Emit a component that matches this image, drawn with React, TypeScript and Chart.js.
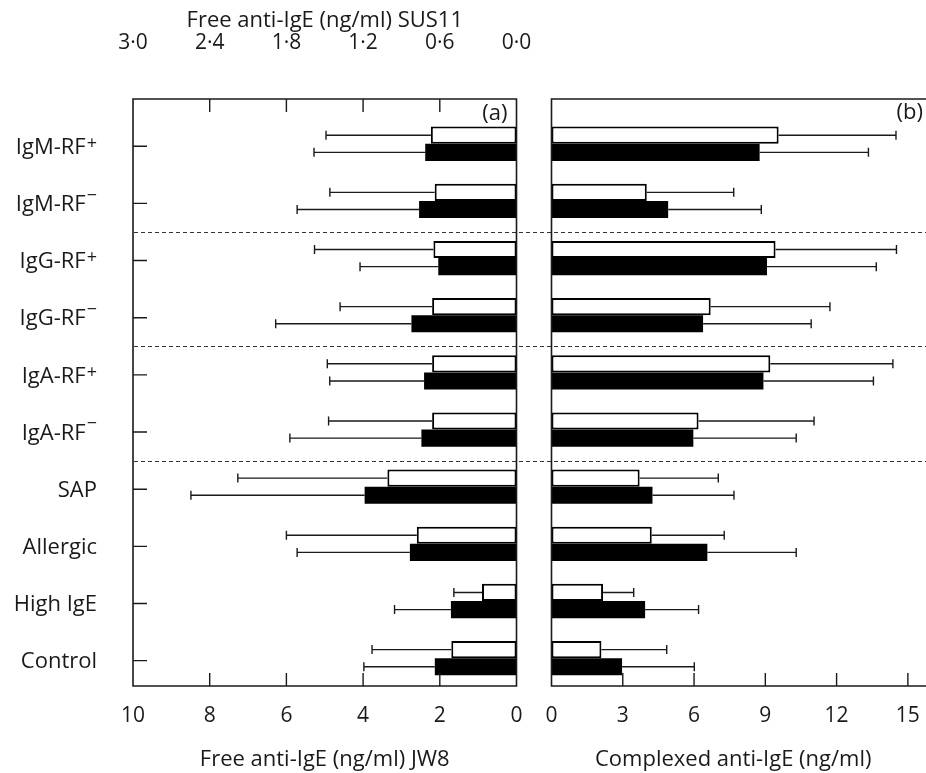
import React, { useEffect, useRef } from 'react';
import { Chart, registerables } from 'chart.js';
Chart.register(...registerables);

// ---------- data ----------
const categories = ['IgM-RF⁺', 'IgM-RF⁻', 'IgG-RF⁺', 'IgG-RF⁻', 'IgA-RF⁺', 'IgA-RF⁻', 'SAP', 'Allergic', 'High IgE', 'Control'];

// Panel (a): free anti-IgE
const sus11Mean = [0.67, 0.64, 0.65, 0.66, 0.66, 0.66, 1.01, 0.78, 0.27, 0.51]; // white bars, top axis (SUS11)
const sus11Sd = [0.82, 0.82, 0.93, 0.72, 0.82, 0.81, 1.17, 1.02, 0.22, 0.62];
const jw8Mean = [2.38, 2.54, 2.04, 2.74, 2.41, 2.48, 3.96, 2.78, 1.71, 2.13]; // black bars, bottom axis (JW8)
const jw8Sd = [2.90, 3.18, 2.04, 3.54, 2.46, 3.43, 4.53, 2.94, 1.47, 1.85];

// Panel (b): complexed anti-IgE
const complexedWhiteMean = [9.56, 4.01, 9.43, 6.70, 9.21, 6.19, 3.71, 4.22, 2.17, 2.10];
const complexedWhiteSd = [4.94, 3.66, 5.09, 5.02, 5.16, 4.86, 3.31, 3.05, 1.29, 2.75];
const complexedBlackMean = [8.76, 4.91, 9.07, 6.38, 8.92, 5.97, 4.25, 6.56, 3.94, 2.97];
const complexedBlackSd = [4.58, 3.92, 4.60, 4.55, 4.63, 4.33, 3.43, 3.74, 2.25, 3.04];

// ticks
const jw8Ticks = [0, 2, 4, 6, 8, 10];
const sus11Ticks = [0, 0.6, 1.2, 1.8, 2.4, 3.0];
const complexedTicks = [0, 3, 6, 9, 12, 15];
const groupDividers = [1.5, 3.5, 5.5];

// ---------- style ----------
const FONT = "'Open Sans', 'DejaVu Sans', sans-serif";
const FS = 22; // titles, category labels
const TICK_FS = 21;
const SUP_FS = 18;
const INK = '#1a1a1a';
const Y_MIN = -0.783;
const Y_MAX = 9.487;
const LEFT_W = 534;
const RIGHT_W = 402;

const toPts = (arr: number[]) => arr.map((v, i) => ({ x: v, y: i }));
const fmtDot = (v: number) => v.toFixed(1).replace('.', '·');

const SUP_MAP: Record<string, { glyph: string; raise: number }> = {
  '⁺': { glyph: '+', raise: 5 },
  '⁻': { glyph: '−', raise: 10.5 },
};

function drawCategoryLabel(ctx: CanvasRenderingContext2D, text: string, right: number, y: number) {
  const last = text.slice(-1);
  const sup = SUP_MAP[last];
  const base = sup ? text.slice(0, -1) : text;
  ctx.font = `${FS}px ${FONT}`;
  const bw = ctx.measureText(base).width;
  let sw = 0;
  if (sup) {
    ctx.font = `${SUP_FS}px ${FONT}`;
    sw = ctx.measureText(sup.glyph).width + 1;
  }
  const x0 = right - bw - sw;
  const baseline = y + 0.35 * FS;
  ctx.textAlign = 'left';
  ctx.textBaseline = 'alphabetic';
  ctx.font = `${FS}px ${FONT}`;
  ctx.fillText(base, x0, baseline);
  if (sup) {
    ctx.font = `${SUP_FS}px ${FONT}`;
    ctx.fillText(sup.glyph, x0 + bw + 1, baseline - sup.raise);
  }
}

const overlayPlugin = {
  id: 'overlay',
  afterDatasetsDraw(chart: any, _args: any, opts: any) {
    const ctx = chart.ctx;
    const a = chart.chartArea;
    const ys = chart.scales.y;
    const W = chart.width;
    ctx.save();
    // error bars
    chart.data.datasets.forEach((ds: any, di: number) => {
      const meta = chart.getDatasetMeta(di);
      const xs = chart.scales[meta.xAxisID];
      const sd = opts.errors[di];
      meta.data.forEach((el: any, i: number) => {
        const xe = xs.getPixelForValue(ds.data[i].x + sd[i]);
        ctx.strokeStyle = INK;
        ctx.lineWidth = 1.4;
        ctx.beginPath();
        ctx.moveTo(el.x, el.y);
        ctx.lineTo(xe, el.y);
        ctx.moveTo(xe, el.y - 4.5);
        ctx.lineTo(xe, el.y + 4.5);
        ctx.stroke();
      });
    });
    // dashed dividers
    ctx.strokeStyle = '#333';
    ctx.lineWidth = 1;
    ctx.setLineDash([4, 3]);
    ctx.lineDashOffset = opts.dashOffset || 0;
    groupDividers.forEach((d) => {
      const y = Math.round(ys.getPixelForValue(d) + opts.tickShift) + 0.5;
      ctx.beginPath();
      ctx.moveTo(opts.dashFromLeft ? a.left + 1 : 0, y);
      ctx.lineTo(W, y);
      ctx.stroke();
    });
    ctx.setLineDash([]);
    ctx.lineDashOffset = 0;
    // frame
    ctx.strokeStyle = INK;
    ctx.lineWidth = 1.6;
    ctx.beginPath();
    if (opts.fullFrame) {
      ctx.rect(a.left, a.top, a.right - a.left, a.bottom - a.top);
    } else {
      ctx.moveTo(W, a.top);
      ctx.lineTo(a.left, a.top);
      ctx.lineTo(a.left, a.bottom);
      ctx.lineTo(W, a.bottom);
    }
    ctx.stroke();
    // inward ticks
    ctx.lineWidth = 1.4;
    ctx.beginPath();
    (opts.inTicks || []).forEach((t: any) => {
      const s = chart.scales[t.axis];
      t.values.forEach((v: number) => {
        const x = s.getPixelForValue(v);
        if (x <= a.left + 2 || x >= a.right - 2) return;
        if (t.side === 'bottom') {
          ctx.moveTo(x, a.bottom);
          ctx.lineTo(x, a.bottom - 13);
        } else {
          ctx.moveTo(x, a.top);
          ctx.lineTo(x, a.top + 13);
        }
      });
    });
    if (opts.yTicks) {
      categories.forEach((_c, i) => {
        const y = ys.getPixelForValue(i) + opts.tickShift;
        ctx.moveTo(a.left, y);
        ctx.lineTo(a.left + 14, y);
      });
    }
    ctx.stroke();
    // category labels
    ctx.fillStyle = INK;
    if (opts.yLabels) {
      categories.forEach((c, i) => {
        drawCategoryLabel(ctx, c, a.left - 36, ys.getPixelForValue(i) + opts.tickShift);
      });
    }
    // panel label
    ctx.font = `${FS}px ${FONT}`;
    ctx.textAlign = 'right';
    ctx.textBaseline = 'middle';
    ctx.fillText(opts.label, opts.labelX, opts.labelY);
    ctx.restore();
  },
};

const noPad = (s: any) => {
  s.paddingLeft = 0;
  s.paddingRight = 0;
  s.paddingTop = 0;
  s.paddingBottom = 0;
};

const baseOptions = {
  indexAxis: 'y',
  animation: false,
  responsive: false,
  events: [],
  categoryPercentage: 0.6,
  barPercentage: 1,
};

const tickFont = { size: TICK_FS, family: FONT };
const titleFont = { size: FS, family: FONT };

const yScale = (display: boolean, width: number) => ({
  type: 'linear',
  display,
  reverse: true,
  offset: false,
  min: Y_MIN,
  max: Y_MAX,
  grid: { display: false, drawTicks: false },
  border: { display: false },
  ticks: { display: false },
  afterBuildTicks: (s: any) => {
    s.ticks = categories.map((_c, i) => ({ value: i }));
  },
  afterFit: (s: any) => {
    s.width = width;
    noPad(s);
  },
});

function makeLeft(canvas: HTMLCanvasElement) {
  return new Chart(canvas, {
    type: 'bar',
    data: {
      datasets: [
        {
          label: 'SUS11',
          data: toPts(sus11Mean),
          xAxisID: 'x2',
          backgroundColor: '#ffffff',
          borderColor: '#000',
          borderWidth: 2,
          borderSkipped: false,
        },
        {
          label: 'JW8',
          data: toPts(jw8Mean),
          xAxisID: 'x',
          backgroundColor: '#000',
          borderWidth: 0,
        },
      ],
    } as any,
    options: {
      ...baseOptions,
      layout: { padding: { left: 0, right: LEFT_W - 516.5, top: 0, bottom: 0 } },
      plugins: {
        legend: { display: false },
        tooltip: { enabled: false },
        overlay: {
          errors: [sus11Sd, jw8Sd],
          fullFrame: true,
          dashFromLeft: true,
          dashOffset: 0,
          yTicks: true,
          yLabels: true,
          tickShift: 2.5,
          inTicks: [
            { axis: 'x', values: jw8Ticks, side: 'bottom' },
            { axis: 'x2', values: sus11Ticks, side: 'top' },
          ],
          label: '(a)',
          labelX: 507.5,
          labelY: 114,
        },
      } as any,
      scales: {
        y: yScale(true, 133),
        x: {
          type: 'linear',
          position: 'bottom',
          reverse: true,
          min: 0,
          max: 10,
          grid: { display: false, drawTicks: false },
          border: { display: false },
          afterBuildTicks: (s: any) => {
            s.ticks = jw8Ticks.map((v) => ({ value: v }));
          },
          ticks: {
            autoSkip: false,
            padding: 17.4,
            maxRotation: 0,
            color: INK,
            font: tickFont,
            callback: (v: any) => String(v),
          },
          title: {
            display: true,
            text: 'Free anti-IgE (ng/ml) JW8',
            color: INK,
            font: titleFont,
            padding: { top: 0, bottom: 0 },
          },
          afterFit: (s: any) => {
            s.height = 87;
            noPad(s);
          },
        },
        x2: {
          type: 'linear',
          position: 'top',
          reverse: true,
          min: 0,
          max: 3,
          grid: { display: false, drawTicks: false },
          border: { display: false },
          afterBuildTicks: (s: any) => {
            s.ticks = sus11Ticks.map((v) => ({ value: v }));
          },
          ticks: {
            autoSkip: false,
            padding: 43,
            maxRotation: 0,
            color: INK,
            font: tickFont,
            callback: (v: any) => fmtDot(Number(v)),
          },
          title: {
            display: true,
            text: 'Free anti-IgE (ng/ml) SUS11',
            color: INK,
            font: titleFont,
            padding: { top: 8, bottom: 0 },
          },
          afterFit: (s: any) => {
            s.height = 99;
            noPad(s);
          },
        },
      } as any,
    } as any,
    plugins: [overlayPlugin],
  });
}

function makeRight(canvas: HTMLCanvasElement) {
  return new Chart(canvas, {
    type: 'bar',
    data: {
      datasets: [
        {
          label: 'SUS11',
          data: toPts(complexedWhiteMean),
          xAxisID: 'x',
          backgroundColor: '#ffffff',
          borderColor: '#000',
          borderWidth: 2,
          borderSkipped: false,
        },
        {
          label: 'JW8',
          data: toPts(complexedBlackMean),
          xAxisID: 'x',
          backgroundColor: '#000',
          borderWidth: 0,
        },
      ],
    } as any,
    options: {
      ...baseOptions,
      layout: { padding: { left: 551.5 - LEFT_W, right: 21, top: 99, bottom: 0 } },
      plugins: {
        legend: { display: false },
        tooltip: { enabled: false },
        overlay: {
          errors: [complexedWhiteSd, complexedBlackSd],
          fullFrame: false,
          dashFromLeft: false,
          dashOffset: (LEFT_W - 134) % 7,
          yTicks: false,
          yLabels: false,
          tickShift: 2.5,
          inTicks: [{ axis: 'x', values: complexedTicks, side: 'bottom' }],
          label: '(b)',
          labelX: 923 - LEFT_W,
          labelY: 113,
        },
      } as any,
      scales: {
        y: yScale(false, 0),
        x: {
          type: 'linear',
          position: 'bottom',
          min: 0,
          max: 15.3,
          grid: { display: false, drawTicks: false },
          border: { display: false },
          afterBuildTicks: (s: any) => {
            s.ticks = complexedTicks.map((v) => ({ value: v }));
          },
          ticks: {
            autoSkip: false,
            padding: 17.4,
            maxRotation: 0,
            color: INK,
            font: tickFont,
            callback: (v: any) => String(v),
          },
          title: {
            display: true,
            text: 'Complexed anti-IgE (ng/ml)',
            color: INK,
            font: titleFont,
            padding: { top: 0, bottom: 0 },
          },
          afterFit: (s: any) => {
            s.height = 87;
            noPad(s);
          },
        },
      } as any,
    } as any,
    plugins: [overlayPlugin],
  });
}

export default function App() {
  const leftRef = useRef<HTMLCanvasElement>(null);
  const rightRef = useRef<HTMLCanvasElement>(null);
  useEffect(() => {
    const l = makeLeft(leftRef.current!);
    const r = makeRight(rightRef.current!);
    return () => {
      l.destroy();
      r.destroy();
    };
  }, []);
  return (
    <div
      style={{
        position: 'absolute',
        left: 0,
        top: 0,
        width: 926,
        height: 773,
        overflow: 'hidden',
        background: '#fff',
      }}
    >
      <canvas
        ref={leftRef}
        width={LEFT_W}
        height={773}
        style={{ position: 'absolute', left: 0, top: 0, width: LEFT_W, height: 773 }}
      />
      <canvas
        ref={rightRef}
        width={RIGHT_W}
        height={773}
        style={{ position: 'absolute', left: LEFT_W, top: 0, width: RIGHT_W, height: 773 }}
      />
    </div>
  );
}
